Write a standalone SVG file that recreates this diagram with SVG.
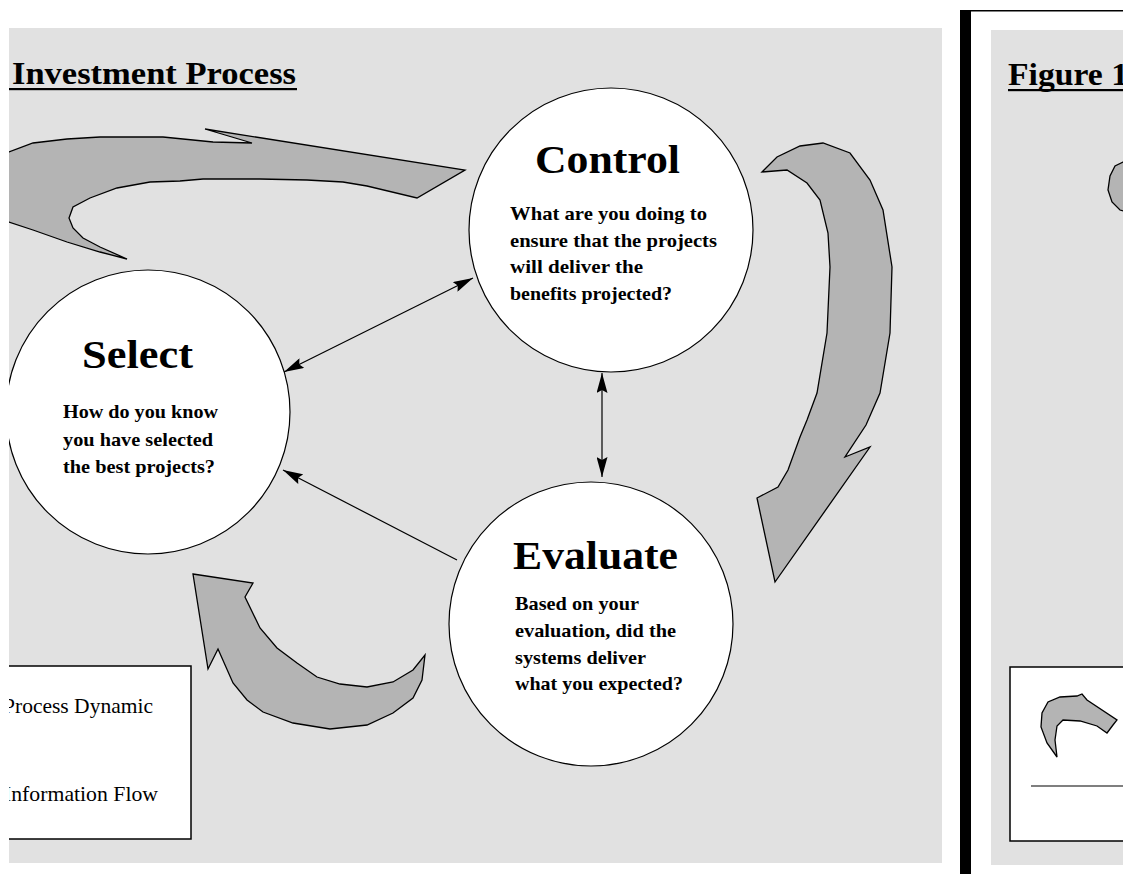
<svg xmlns="http://www.w3.org/2000/svg" width="1123" height="874" viewBox="0 0 1123 874">
  <style>
    .panel { fill: #e1e1e1; }
    .node { fill: #ffffff; stroke: #000000; stroke-width: 1.2; }
    .dyn { fill: #b4b4b4; stroke: #000000; stroke-width: 1.3; stroke-linejoin: miter; }
    .flow { fill: none; stroke: #000000; stroke-width: 1.2; }
    .heading { font-family: "Liberation Serif", "Times New Roman", serif; font-weight: bold; font-size: 32px; fill: #000; }
    .title { font-family: "Liberation Serif", "Times New Roman", serif; font-weight: bold; font-size: 40px; fill: #000; }
    .body { font-family: "Liberation Serif", "Times New Roman", serif; font-weight: bold; font-size: 19px; fill: #000; }
    .legend-text { font-family: "Liberation Serif", "Times New Roman", serif; font-size: 21px; fill: #000; }
    .box { fill: #ffffff; stroke: #000000; stroke-width: 1.5; }
  </style>
  <defs>
    <marker id="head" viewBox="0 0 20 11" refX="20" refY="5.5" markerWidth="20" markerHeight="11" markerUnits="userSpaceOnUse" orient="auto-start-reverse">
      <path d="M0,0 L20,5.5 L0,11 L3,5.5 z" fill="#000"/>
    </marker>
    <clipPath id="leftClip"><rect x="9" y="28" width="933" height="835"/></clipPath>
    <clipPath id="rightClip"><rect x="991" y="30" width="132" height="835"/></clipPath>
  </defs>

  <rect width="1123" height="874" fill="#ffffff"/>

  <!-- main panel -->
  <rect class="panel" x="9" y="28" width="933" height="835"/>

  <g clip-path="url(#leftClip)">
    <g id="heading">
      <text class="heading" x="12" y="84" textLength="284" lengthAdjust="spacingAndGlyphs">Investment Process</text>
      <rect x="9" y="88" width="288" height="2.2" fill="#000"/>
    </g>

    <!-- process dynamic arrows -->
    <g id="process-dynamics">
      <polygon class="dyn" points="0,155 9,152 33,143 67,139 100,137 163,137 213,142 252,143 205,129 465,170 417,198 367,186 343,182 307,180 260,179 203,179 180,181 150,182 117,188 90,198 73,207 69,218 73,228 83,238 100,247 127,259 100,252 67,242 33,230 9,222 0,219"/>
      <polygon class="dyn" points="762,172 777,157 800,146 823,143 850,153 870,180 883,210 892,267 890,333 880,393 866,425 845,457 870,447 775,582 757,498 778,487 788,470 800,437 807,420 817,393 827,333 830,267 828,233 820,200 807,183 787,170"/>
      <polygon class="dyn" points="193,574 253,583 245,597 260,628 277,648 297,663 317,677 340,684 367,687 393,682 413,670 425,655 422,680 413,698 393,713 367,725 330,729 293,723 263,712 247,700 233,683 218,649 208,669"/>
    </g>

    <!-- Select -->
    <g id="node-select">
      <circle class="node" cx="148" cy="412" r="142"/>
      <text class="title" x="82" y="368" textLength="111" lengthAdjust="spacingAndGlyphs">Select</text>
      <text class="body" x="63" y="418" textLength="155" lengthAdjust="spacingAndGlyphs">How do you know</text>
      <text class="body" x="63" y="446" textLength="150" lengthAdjust="spacingAndGlyphs">you have selected</text>
      <text class="body" x="63" y="473" textLength="152" lengthAdjust="spacingAndGlyphs">the best projects?</text>
    </g>

    <!-- Control -->
    <g id="node-control">
      <circle class="node" cx="611" cy="230" r="142"/>
      <text class="title" x="535" y="173" textLength="145" lengthAdjust="spacingAndGlyphs">Control</text>
      <text class="body" x="510" y="220" textLength="197" lengthAdjust="spacingAndGlyphs">What  are you doing to</text>
      <text class="body" x="510" y="247" textLength="207" lengthAdjust="spacingAndGlyphs">ensure that  the projects</text>
      <text class="body" x="510" y="273" textLength="133" lengthAdjust="spacingAndGlyphs">will  deliver the</text>
      <text class="body" x="510" y="300" textLength="162" lengthAdjust="spacingAndGlyphs">benefits projected?</text>
    </g>

    <!-- Evaluate -->
    <g id="node-evaluate">
      <circle class="node" cx="591" cy="624" r="142"/>
      <text class="title" x="513" y="569" textLength="165" lengthAdjust="spacingAndGlyphs">Evaluate</text>
      <text class="body" x="515" y="610" textLength="124" lengthAdjust="spacingAndGlyphs">Based on your</text>
      <text class="body" x="515" y="637" textLength="161" lengthAdjust="spacingAndGlyphs">evaluation, did the</text>
      <text class="body" x="515" y="664" textLength="131" lengthAdjust="spacingAndGlyphs">systems deliver</text>
      <text class="body" x="515" y="690" textLength="168" lengthAdjust="spacingAndGlyphs">what you expected?</text>
    </g>

    <!-- information flow -->
    <g id="connectors">
      <line class="flow" x1="284" y1="372" x2="473" y2="278" marker-start="url(#head)" marker-end="url(#head)"/>
      <line class="flow" x1="602" y1="373" x2="602" y2="477" marker-start="url(#head)" marker-end="url(#head)"/>
      <line class="flow" x1="457" y1="560" x2="283" y2="470" marker-end="url(#head)"/>
    </g>

    <!-- key -->
    <g id="legend">
      <rect class="box" x="0" y="666" width="191" height="173"/>
      <text class="legend-text" x="3" y="713" textLength="150" lengthAdjust="spacingAndGlyphs">Process Dynamic</text>
      <text class="legend-text" x="4" y="801" textLength="154" lengthAdjust="spacingAndGlyphs">Information Flow</text>
    </g>
  </g>

  <!-- divider -->
  <rect x="960" y="10" width="11" height="864" fill="#000"/>
  <rect x="971" y="10" width="152" height="1.5" fill="#000"/>

  <!-- second panel -->
  <rect class="panel" x="991" y="30" width="132" height="835"/>
  <g clip-path="url(#rightClip)">
    <g id="figure-heading">
      <text class="heading" x="1008" y="85" textLength="120" lengthAdjust="spacingAndGlyphs">Figure 1</text>
      <rect x="1008" y="89" width="115" height="2.2" fill="#000"/>
    </g>
    <g id="figure-arrow">
      <path class="dyn" d="M1130,160 L1123,162 L1115,166 L1110,176 L1108,190 L1112,202 L1120,210 L1130,213 z"/>
    </g>
    <g id="figure-legend">
      <rect class="box" x="1010" y="667" width="130" height="174"/>
      <polygon class="dyn" points="1057,757 1047,743 1041,727 1042,713 1048,702 1060,697 1077,696 1082,694 1087,700 1117,720 1113,725 1107,733 1097,726 1080,721 1063,720 1057,726 1055,740"/>
      <line x1="1031" y1="786" x2="1123" y2="786" stroke="#000" stroke-width="1.2"/>
    </g>
  </g>
</svg>
